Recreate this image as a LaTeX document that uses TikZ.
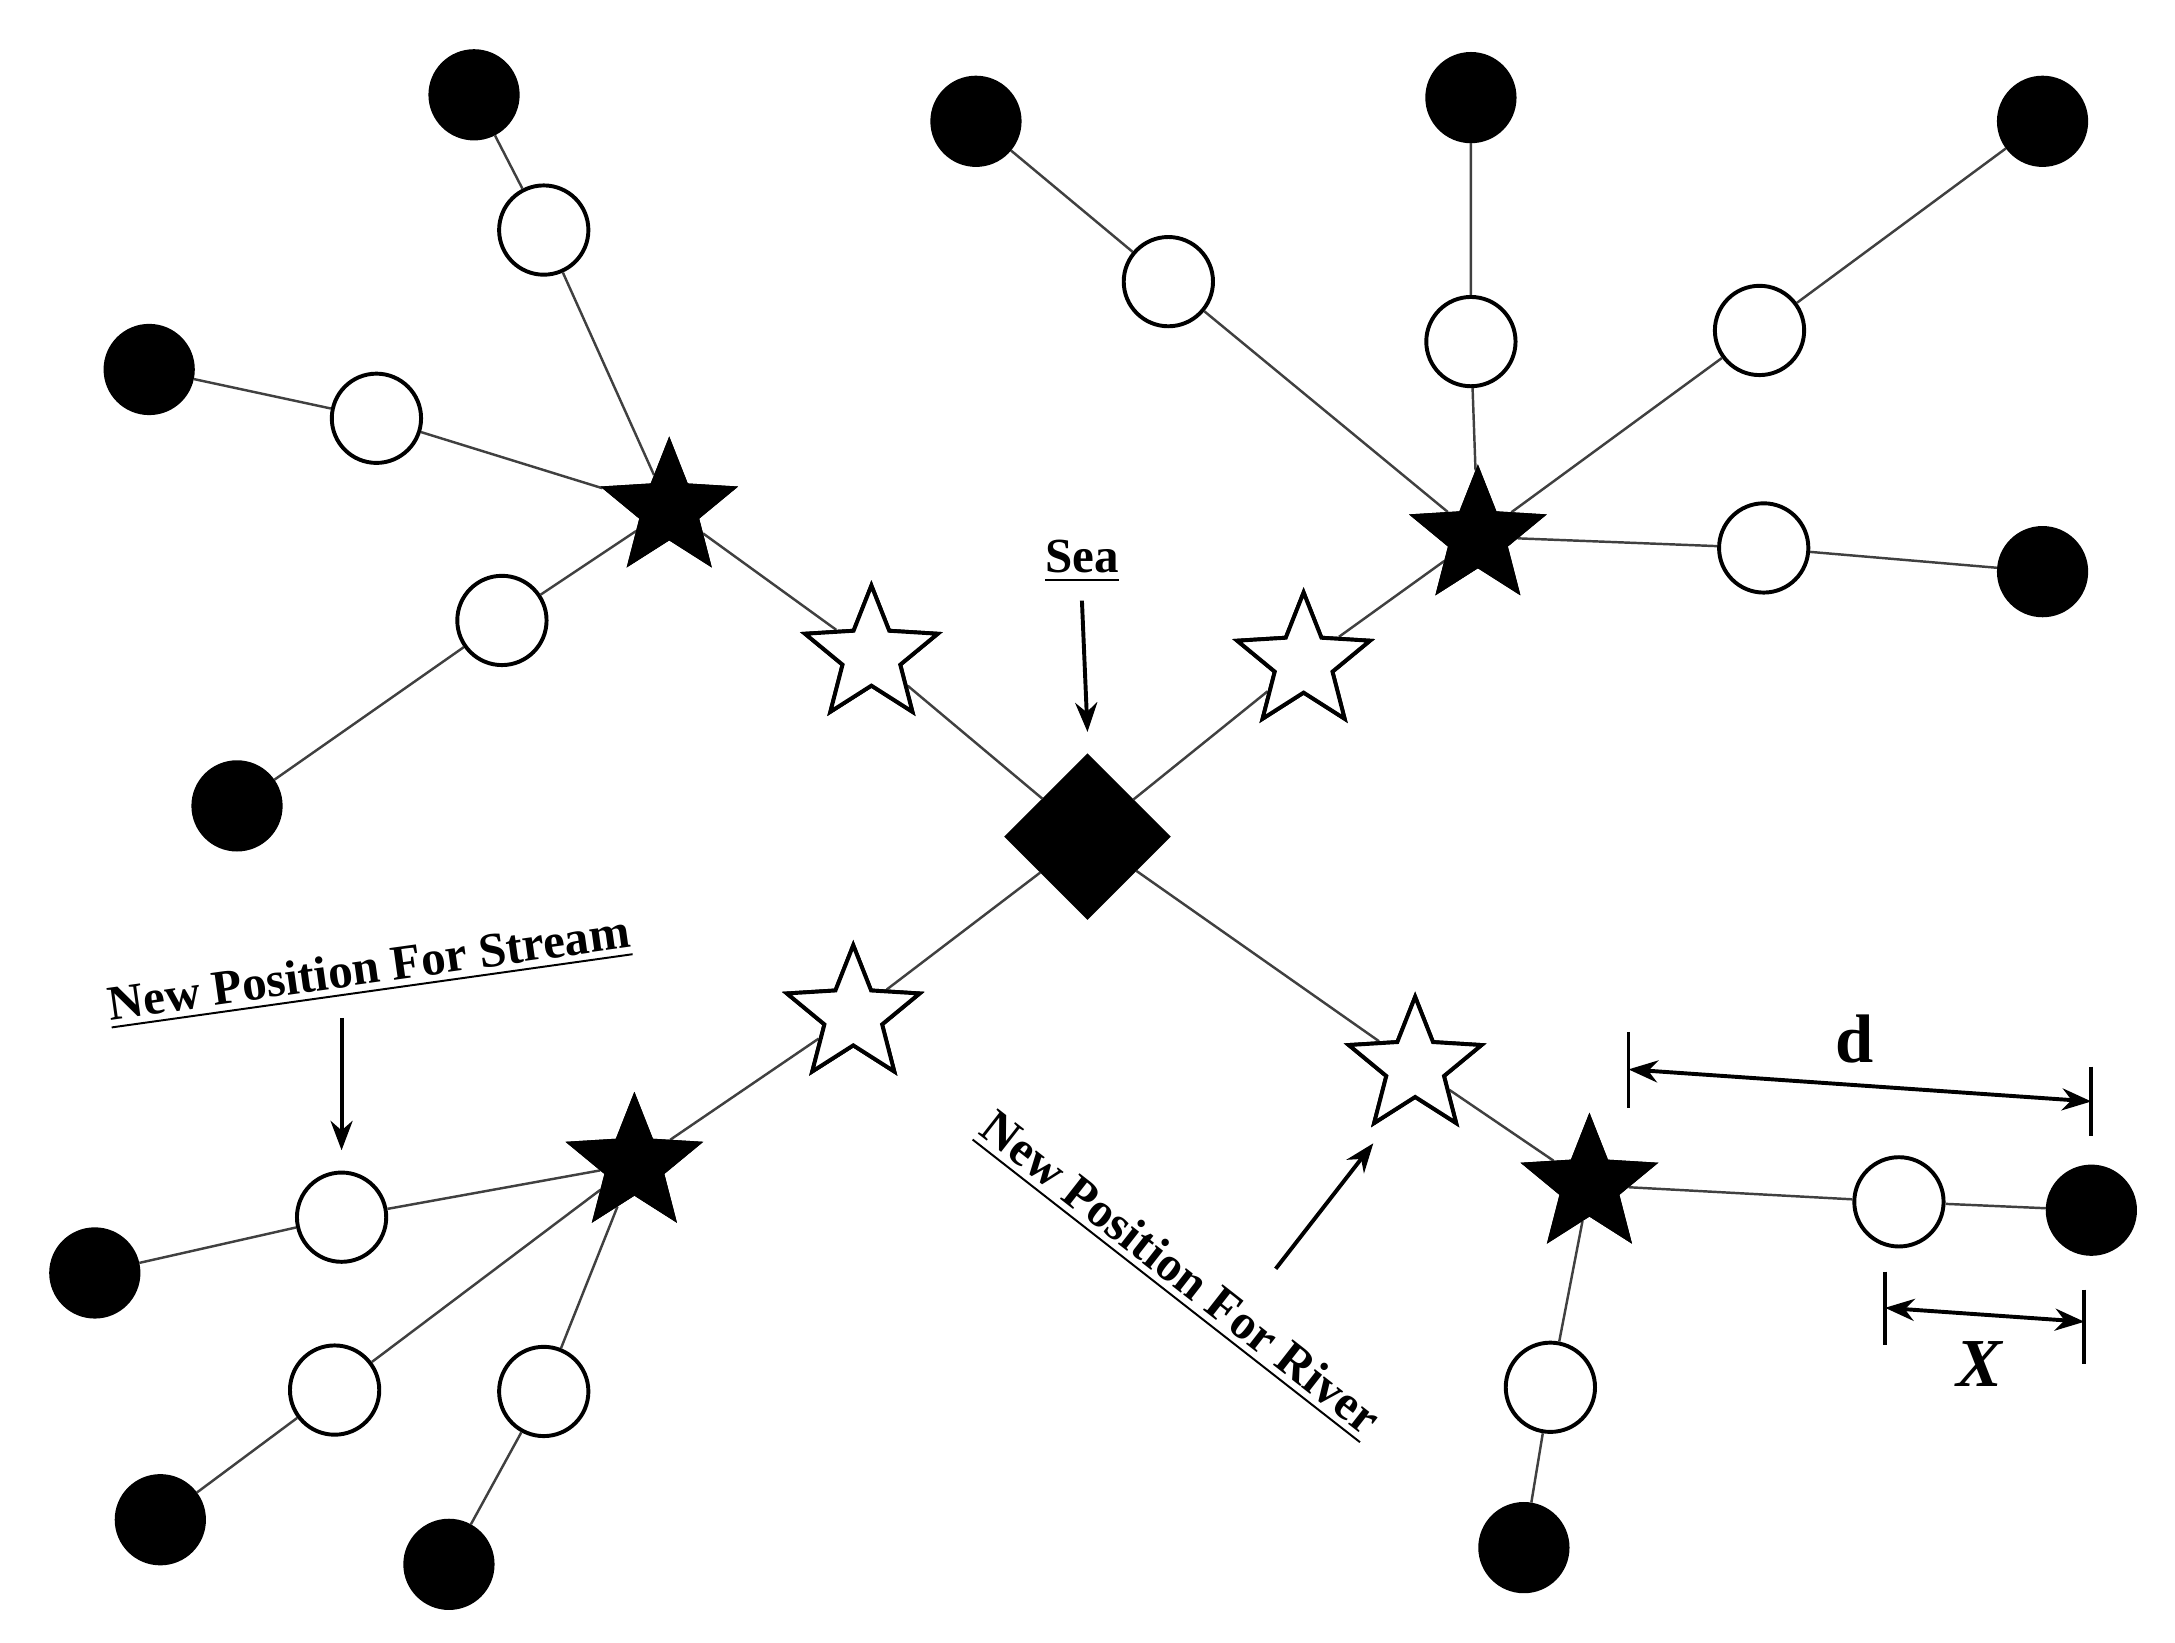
\documentclass[tikz,border=0pt]{standalone}
\usepackage{fontspec}
\setmainfont{Liberation Serif}
\usetikzlibrary{shapes.geometric,arrows.meta}
\begin{document}
\begin{tikzpicture}[x=0.01cm,y=-0.01cm,
 edge/.style={draw=black!75,line width=0.5pt},
 bc/.style={circle,fill=black,draw=black,minimum size=0.64cm,inner sep=0pt},
 wc/.style={circle,fill=white,draw=black,thick,minimum size=0.64cm,inner sep=0pt},
 bs/.style={star,star points=5,star point ratio=2.3,fill=black,draw=black,minimum size=1.0cm,inner sep=0pt},
 ws/.style={star,star points=5,star point ratio=2.3,fill=white,draw=black,thick,minimum size=1.0cm,inner sep=0pt},
 lab/.style={font=\bfseries\fontsize{10}{12}\selectfont},
 arr/.style={-{Stealth[length=6pt]},thick}]
\useasboundingbox (0,0) rectangle (1560,1178);
\node[diamond,fill=black,draw=black,minimum size=1.18cm,inner sep=0pt] (sea) at (780,600) {};
\node[bs] (s1) at (480,365) {};
\node[bs] (s2) at (1060,385) {};
\node[bs] (s3) at (455,835) {};
\node[bs] (s4) at (1140,850) {};
\node[ws] (w1) at (625,470) {};
\node[ws] (w2) at (935,475) {};
\node[ws] (w3) at (612,728) {};
\node[ws] (w4) at (1015,765) {};
\foreach \s/\w in {s1/w1,s2/w2,s3/w3,s4/w4}{
 \draw[edge] (sea) -- (\w) -- (\s);}
\foreach \n/\s/\ox/\oy/\bx/\by in {
 a/s1/390/165/340/68, b/s1/270/300/107/265, c/s1/360/445/170/578,
 d/s2/838/202/700/87, e/s2/1055/245/1055/70, f/s2/1262/237/1465/87, g/s2/1265/393/1465/410,
 h/s3/245/873/68/913, i/s3/240/997/115/1090, j/s3/390/998/322/1122,
 k/s4/1362/862/1500/868, l/s4/1112/995/1093/1110}{
 \node[wc] (o\n) at (\ox,\oy) {};
 \node[bc] (b\n) at (\bx,\by) {};
 \draw[edge] (\s) -- (o\n) -- (b\n);}
\foreach \s in {s1,s2,s3,s4}{\node[bs] at (\s) {};}
\foreach \w in {w1,w2,w3,w4}{\node[ws] at (\w) {};}
\node[lab] (tsea) at (776,403) {\underline{Sea}};
\coordinate (asea) at (780,525);
\draw[arr] (tsea.south) -- (asea);
\node[lab,rotate=8] (tstr) at (265,697) {\underline{New Position For Stream}};
\coordinate (a1) at (245,730); \coordinate (a2) at (245,825);
\draw[arr] (a1) -- (a2);
\node[lab,rotate=-38] (triv) at (845,915) {\underline{New Position For River}};
\coordinate (r1) at (915,910); \coordinate (r2) at (985,820);
\draw[arr] (r1) -- (r2);
\coordinate (d1) at (1168,767); \coordinate (d2) at (1500,790);
\draw[{Stealth[length=6pt]}-{Stealth[length=6pt]},thick] (d1) -- (d2);
\draw[thick] (1168,740) -- (1168,795) (1500,765) -- (1500,815);
\node[font=\bfseries\fontsize{14}{16}\selectfont] (dl) at (1330,745) {d};
\coordinate (x1) at (1352,938); \coordinate (x2) at (1495,948);
\draw[{Stealth[length=6pt]}-{Stealth[length=6pt]},thick] (x1) -- (x2);
\draw[thick] (1352,912) -- (1352,965) (1495,925) -- (1495,978);
\node[font=\bfseries\itshape\fontsize{14}{16}\selectfont] (xl) at (1420,978) {X};
\end{tikzpicture}
\end{document}
